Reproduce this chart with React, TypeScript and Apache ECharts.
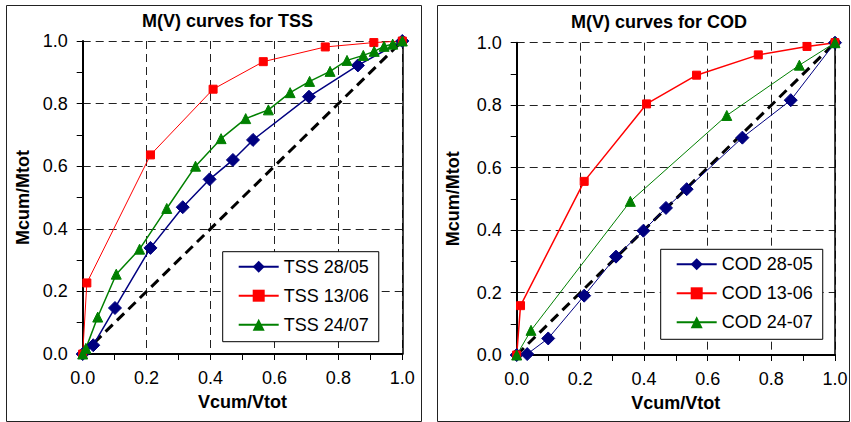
import React, { useEffect, useRef } from "react";
import * as echarts from "echarts";

// ---- data ----
const tickLabels = ["0.0", "0.2", "0.4", "0.6", "0.8", "1.0"];
const tssTitle = "M(V) curves for TSS";
const codTitle = "M(V) curves for COD";
const xTitle = "Vcum/Vtot";
const yTitle = "Mcum/Mtot";
const tssNames = ["TSS 28/05", "TSS 13/06", "TSS 24/07"];
const codNames = ["COD 28-05", "COD 13-06", "COD 24-07"];

const tss2805X = [0, 0.033, 0.101, 0.212, 0.313, 0.397, 0.47, 0.533, 0.708, 0.861, 1];
const tss2805Y = [0, 0.028, 0.147, 0.339, 0.469, 0.558, 0.62, 0.684, 0.822, 0.922, 1];
const tss1306X = [0, 0.013, 0.212, 0.408, 0.565, 0.759, 0.911, 1];
const tss1306Y = [0, 0.227, 0.636, 0.846, 0.934, 0.981, 0.995, 1];
const tss2407X = [0, 0.01, 0.047, 0.105, 0.178, 0.263, 0.353, 0.433, 0.51, 0.581, 0.649, 0.71, 0.774, 0.827, 0.878, 0.912, 0.943, 0.97, 1];
const tss2407Y = [0, 0.018, 0.118, 0.255, 0.335, 0.465, 0.6, 0.688, 0.752, 0.78, 0.835, 0.871, 0.903, 0.938, 0.954, 0.967, 0.983, 0.99, 1];

const cod2805X = [0, 0.033, 0.099, 0.212, 0.312, 0.398, 0.469, 0.534, 0.709, 0.861, 1];
const cod2805Y = [0, 0.003, 0.053, 0.19, 0.315, 0.398, 0.471, 0.531, 0.696, 0.816, 1];
const cod1306X = [0, 0.012, 0.212, 0.408, 0.565, 0.759, 0.912, 1];
const cod1306Y = [0, 0.158, 0.556, 0.804, 0.896, 0.961, 0.988, 1];
const cod2407X = [0, 0.045, 0.357, 0.66, 0.888, 1];
const cod2407Y = [0, 0.079, 0.492, 0.767, 0.928, 1];

const diagX = [0, 1];
const diagY = [0, 1];

const FONT = "'Liberation Sans', Arial, Helvetica, sans-serif";

const zip = (xs: number[], ys: number[]) => xs.map((x, i) => [x, ys[i]]);

function xAxisFor(gridIndex: number) {
  return {
    gridIndex,
    type: "value",
    min: 0,
    max: 1,
    interval: 0.2,
    axisLine: { show: true, onZero: false, lineStyle: { color: "#000", width: 2 } },
    axisTick: { show: true, inside: false, length: 6, lineStyle: { color: "#000", width: 1 } },
    minorTick: { show: true, splitNumber: 2, length: 6, lineStyle: { color: "#000", width: 1 } },
    minorSplitLine: { show: false },
    axisLabel: {
      formatter: (v: number) => tickLabels[Math.round(v / 0.2)],
      fontSize: 18,
      color: "#000",
      margin: 15,
      fontFamily: FONT,
    },
    splitLine: { show: true, lineStyle: { color: "#222", type: [8, 5], width: 1 } },
    name: xTitle,
    nameLocation: "middle",
    nameGap: 39,
    nameTextStyle: { fontSize: 18, fontWeight: "bold", color: "#000", fontFamily: FONT },
  };
}

function yAxisFor(gridIndex: number, nameGap: number) {
  return {
    gridIndex,
    type: "value",
    min: 0,
    max: 1,
    interval: 0.2,
    axisLine: { show: true, onZero: false, lineStyle: { color: "#000", width: 2 } },
    axisTick: { show: true, inside: false, length: 6, lineStyle: { color: "#000", width: 1 } },
    minorTick: { show: true, splitNumber: 2, length: 6, lineStyle: { color: "#000", width: 1 } },
    minorSplitLine: { show: false },
    axisLabel: {
      formatter: (v: number) => tickLabels[Math.round(v / 0.2)],
      fontSize: 18,
      color: "#000",
      margin: 15,
      fontFamily: FONT,
    },
    splitLine: { show: true, lineStyle: { color: "#222", type: [8, 5], width: 1 } },
    name: yTitle,
    nameLocation: "middle",
    nameGap,
    nameRotate: 90,
    nameTextStyle: { fontSize: 18, fontWeight: "bold", color: "#000", fontFamily: FONT },
  };
}

function rightBorderAxis(gridIndex: number) {
  return {
    gridIndex,
    type: "value",
    min: 0,
    max: 1,
    position: "right",
    axisLine: { show: true, onZero: false, lineStyle: { color: "#000", width: 1.5 } },
    axisTick: { show: false },
    axisLabel: { show: false },
    splitLine: { show: false },
  };
}

function lineSeries(
  name: string,
  data: number[][],
  axis: number,
  symbol: string,
  symbolSize: number,
  color: string,
  width: number
) {
  return {
    type: "line",
    name,
    xAxisIndex: axis,
    yAxisIndex: axis * 2,
    data,
    symbol,
    symbolSize,
    showSymbol: true,
    clip: false,
    lineStyle: { color, width },
    itemStyle: { color, borderColor: color },
    emphasis: { disabled: true },
    z: 3,
  };
}

function diagSeries(name: string, axis: number) {
  return {
    type: "line",
    name,
    xAxisIndex: axis,
    yAxisIndex: axis * 2,
    data: zip(diagX, diagY),
    symbol: "none",
    clip: false,
    lineStyle: { color: "#000", width: 3, type: [10, 6] },
    emphasis: { disabled: true },
    z: 2,
  };
}

function legendFor(names: string[], left: number, top: number) {
  return {
    data: names,
    orient: "vertical",
    left,
    top,
    padding: [6, 10, 8, 15],
    itemGap: 11,
    itemWidth: 40,
    itemHeight: 15,
    borderColor: "#000",
    borderWidth: 1,
    backgroundColor: "#fff",
    selectedMode: false,
    textStyle: { fontSize: 18, color: "#000", fontFamily: FONT },
    z: 5,
  };
}

export default function App() {
  const ref = useRef<HTMLDivElement>(null);

  useEffect(() => {
    if (!ref.current) return;
    const chart = echarts.init(ref.current, undefined, { renderer: "svg" });
    const option = {
      animation: false,
      backgroundColor: "#fff",
      textStyle: { fontFamily: FONT },
      grid: [
        { left: 82.7, top: 41, width: 319.6, height: 313, containLabel: false },
        { left: 516.7, top: 42.7, width: 318.3, height: 312.3, containLabel: false },
      ],
      xAxis: [xAxisFor(0), xAxisFor(1)],
      yAxis: [yAxisFor(0, 51), rightBorderAxis(0), yAxisFor(1, 55), rightBorderAxis(1)],
      legend: [legendFor(tssNames, 222.7, 251.7), legendFor(codNames, 660.7, 249.3)],
      graphic: [
        {
          type: "rect",
          silent: true,
          z: -10,
          shape: { x: 6.5, y: 5.5, width: 415, height: 416 },
          style: { fill: "none", stroke: "#222", lineWidth: 1 },
        },
        {
          type: "rect",
          silent: true,
          z: -10,
          shape: { x: 437.5, y: 5.5, width: 412, height: 416 },
          style: { fill: "none", stroke: "#222", lineWidth: 1 },
        },
        {
          type: "text",
          x: 227.5,
          y: 21,
          silent: true,
          style: {
            text: tssTitle,
            fill: "#000",
            font: "bold 18px " + FONT,
            align: "center",
            verticalAlign: "middle",
          },
        },
        {
          type: "text",
          x: 659,
          y: 22,
          silent: true,
          style: {
            text: codTitle,
            fill: "#000",
            font: "bold 18px " + FONT,
            align: "center",
            verticalAlign: "middle",
          },
        },
      ],
      series: [
        diagSeries("diagTSS", 0),
        lineSeries(tssNames[0], zip(tss2805X, tss2805Y), 0, "diamond", 13, "#000080", 1.5),
        lineSeries(tssNames[1], zip(tss1306X, tss1306Y), 0, "rect", 8, "#ff0000", 1),
        lineSeries(tssNames[2], zip(tss2407X, tss2407Y), 0, "triangle", 10, "#008000", 1.5),
        diagSeries("diagCOD", 1),
        lineSeries(codNames[0], zip(cod2805X, cod2805Y), 1, "diamond", 13, "#000080", 1),
        lineSeries(codNames[1], zip(cod1306X, cod1306Y), 1, "rect", 8, "#ff0000", 1.5),
        lineSeries(codNames[2], zip(cod2407X, cod2407Y), 1, "triangle", 10, "#008000", 1),
      ],
    };
    chart.setOption(option as any);
    return () => chart.dispose();
  }, []);

  return (
    <div
      ref={ref}
      style={{ position: "fixed", left: 0, top: 0, width: 851, height: 422, background: "#fff" }}
    />
  );
}
